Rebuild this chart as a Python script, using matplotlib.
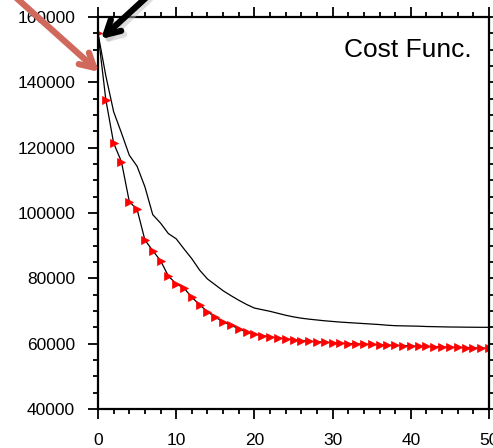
import numpy as np
import matplotlib.pyplot as plt
from matplotlib.ticker import MultipleLocator

# iterations
iters = np.arange(0, 51)

# upper curve (no markers)
cost_a = [155000, 142000, 131000, 124500, 117700, 114300, 108000, 99500, 96900, 93700,
          92100, 89000, 86000, 82500, 79800, 78000, 76200, 74700, 73300, 72000,
          70900, 70400, 69900, 69300, 68700, 68200, 67800, 67500, 67250, 67000,
          66800, 66600, 66450, 66300, 66150, 66000, 65850, 65650, 65500, 65450,
          65400, 65350, 65250, 65200, 65150, 65100, 65080, 65050, 65030, 65010,
          65000]

# lower curve (red triangles)
cost_b = [155000, 134700, 121400, 115700, 103500, 101100, 91700, 88500, 85400, 80700,
          78300, 77000, 74200, 71900, 69800, 68100, 66700, 65600, 64600, 63500,
          62900, 62500, 62100, 61750, 61450, 61200, 60950, 60750, 60600, 60450,
          60300, 60150, 60050, 59950, 59850, 59750, 59650, 59550, 59450, 59400,
          59300, 59200, 59150, 59050, 59000, 58900, 58850, 58800, 58700, 58650,
          58600]

plt.rcParams['font.family'] = ['Liberation Sans', 'DejaVu Sans']

fig = plt.figure(figsize=(4.93, 4.48), dpi=100)
ax = fig.add_axes([98 / 493, 39 / 448, 391 / 493, 392 / 448])

ax.plot(iters, cost_a, color='black', linewidth=0.9)
ax.plot(iters, cost_b, color='black', linewidth=0.9, marker='>', markersize=5.5,
        markerfacecolor='red', markeredgecolor='red', markeredgewidth=0.5)

ax.set_xlim(0, 50)
ax.set_ylim(40000, 160000)
ax.xaxis.set_major_locator(MultipleLocator(10))
ax.xaxis.set_minor_locator(MultipleLocator(2))
ax.yaxis.set_major_locator(MultipleLocator(20000))
ax.yaxis.set_minor_locator(MultipleLocator(5000))
ax.tick_params(which='both', direction='out', top=True, right=True, width=1.3,
               labelsize=12.5, colors='black')
ax.tick_params(which='major', length=7.5)
ax.tick_params(which='minor', length=3.8)
ax.tick_params(axis='y', pad=9)
ax.tick_params(axis='x', pad=10)
for s in ax.spines.values():
    s.set_linewidth(1.6)

ax.text(0.955, 0.915, 'Cost Func.', transform=ax.transAxes, ha='right', va='center',
        fontsize=19)

# annotation arrows (drawn in figure pixels, like pasted call-outs)
head = '->,head_length=1.0,head_width=0.55'
ax.annotate('', xy=(104, 448 - 43), xycoords='figure pixels',
            xytext=(153, 448 + 4), textcoords='figure pixels',
            arrowprops=dict(arrowstyle=head, color='0.75', lw=4.5, alpha=0.5,
                            shrinkA=0, shrinkB=0), annotation_clip=False)
ax.annotate('', xy=(101, 448 - 39), xycoords='figure pixels',
            xytext=(150, 448 + 6), textcoords='figure pixels',
            arrowprops=dict(arrowstyle=head, color='black', lw=4.5,
                            shrinkA=0, shrinkB=0), annotation_clip=False)
ax.annotate('', xy=(99, 448 - 72), xycoords='figure pixels',
            xytext=(12, 448 + 6), textcoords='figure pixels',
            arrowprops=dict(arrowstyle=head, color='#d0685c', lw=4.5,
                            shrinkA=0, shrinkB=0), annotation_clip=False)

fig.savefig('out.png', dpi=100)
